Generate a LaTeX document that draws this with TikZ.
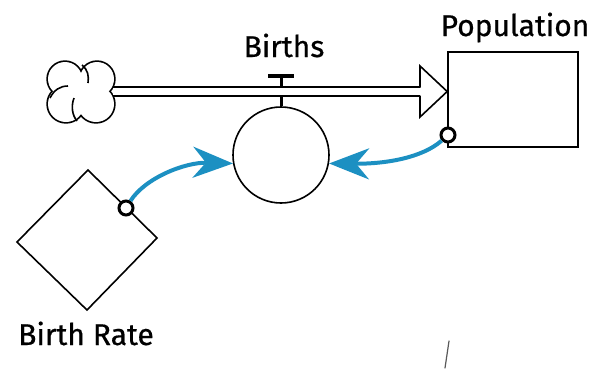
\documentclass[tikz,border=0pt]{standalone}
\usepackage{fontspec}
\setmainfont{Fira Sans}
\newfontfamily\lblfont{Fira Sans}[FakeBold=0.6]
\usetikzlibrary{arrows.meta}
\definecolor{linkblue}{RGB}{28,144,194}
\begin{document}
\begin{tikzpicture}[x=1pt,y=-1pt,
  outline/.style={draw=black,line width=1.6pt},
  label/.style={font=\lblfont\fontsize{30}{33}\selectfont,inner sep=0pt,anchor=base},
  link/.style={draw=linkblue,line width=4pt,-{Stealth[length=40pt,width=31pt,inset=13pt]}},
  port/.style={circle,draw=black,fill=white,line width=3pt,minimum size=14pt,inner sep=0pt}]
\useasboundingbox[fill=white] (0,0) rectangle (591,368);

% cloud source: outer half of thick circle strokes gives the outline of the union
\foreach \c/\r in {{(65,79)}/17,{(97,79)}/17,{(66,104)}/18,{(96,104)}/18}
  \draw[line width=3.4pt] \c circle (\r);
\foreach \c/\r in {{(65,79)}/17,{(97,79)}/17,{(66,104)}/18,{(96,104)}/18}
  \fill[white] \c circle (\r);
\fill[white] (81,91.5) circle (12);
\draw[line width=1.6pt] (82,65) .. controls (88,70) and (89,76) .. (88,83);
\draw[line width=1.6pt] (50,98) .. controls (54,90) and (60,86) .. (68,86);
\draw[line width=1.6pt] (74,98) .. controls (71,106) and (72,115) .. (77,121);
\coordinate (cloud) at (113,91.5);

% stock
\node[outline,minimum width=130pt,minimum height=95pt,inner sep=0pt] (pop) at (513,99.5) {};
\node[label] (poplbl) at (515,36) {Population};

% flow pipe with open arrowhead into the stock
\coordinate (pipeend) at (420,91.5);
\draw[double=white,double distance=7pt,line width=1.8pt] (cloud) -- (pipeend);
\draw[outline,fill=white,line join=miter] (420,87.5) -- (420,66) -- (pop.west |- 0,91.5) -- (420,117) -- (420,95.5);

% valve and flow converter
\node[circle,outline,minimum size=96pt,inner sep=0pt] (births) at (281,155) {};
\draw[line width=3pt] (281,77) -- (281,87);
\draw[line width=4.5pt] (268,76) -- (294,76);
\draw[line width=3pt] (281,96) -- (births.north);
\node[label] (birthslbl) at (284,57) {Births};

% auxiliary
\draw[outline,line join=miter] (88,170) -- (157,238) -- (87,310) -- (17,242) -- cycle;
\node[label] (ratelbl) at (86,345) {Birth Rate};

% information links
\node[port] (rateport) at (126,208) {};
\node[port] (popport) at (448,135) {};
\draw[link] (rateport) .. controls (145,178) and (185,162) .. (births.190);
\draw[link] (popport) .. controls (422,158) and (385,164) .. (births.350);

% small pen stroke near the bottom edge
\draw[gray!70!black,line width=1.2pt,line cap=round] (449,341) -- (445,368);
\end{tikzpicture}
\end{document}
